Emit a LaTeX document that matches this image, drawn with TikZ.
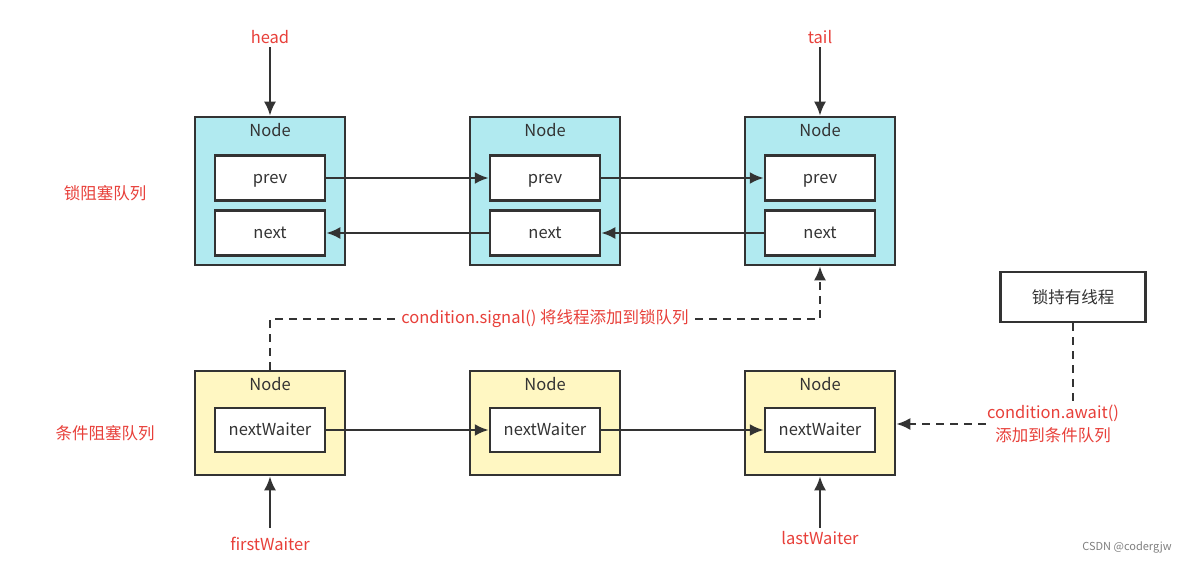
\documentclass[tikz,border=0pt]{standalone}
\usepackage{fontspec}
\setmainfont{Noto Sans CJK SC}
\usetikzlibrary{arrows.meta}
\tikzset{>={Latex[width=12pt,length=14pt]}}
\definecolor{darkline}{HTML}{333333}
\definecolor{lockcyan}{HTML}{B1EAF0}
\definecolor{condyellow}{HTML}{FFF7C2}
\definecolor{labelred}{HTML}{E8403A}
\newcommand{\RED}[1]{\textcolor{labelred}{#1}}

\tikzset{
  nodebox/.style={draw=darkline, line width=2.5pt, minimum width=150pt, inner sep=0pt},
  fieldbox/.style={draw=darkline, line width=2.5pt, fill=white, minimum width=110pt,
    minimum height=45pt, inner sep=0pt, text=darkline, text height=1.35em, text depth=0.22em},
  link/.style={->, line width=2.5pt, draw=darkline},
  dashlink/.style={link, dashed, dash pattern=on 8pt off 6pt}
}

\begin{document}
\begin{tikzpicture}[x=1pt, y=-1pt, font=\fontsize{16.5}{23}\selectfont]

  \useasboundingbox[fill=white] (0,0) rectangle (1183,564);

  %% lock queue
  \foreach \i/\x in {1/270, 2/545, 3/820} {
    \node[nodebox, fill=lockcyan, minimum height=148pt] (c\i) at (\x,191) {};
    \node[text=darkline] (ct\i) at (\x,130) {Node};
    \node[fieldbox] (p\i) at (\x,178) {prev};
    \node[fieldbox] (n\i) at (\x,233) {next};
  }

  %% condition queue
  \foreach \i/\x in {1/270, 2/545, 3/820} {
    \node[nodebox, fill=condyellow, minimum height=104pt] (w\i) at (\x,423) {};
    \node[text=darkline] (wt\i) at (\x,384) {Node};
    \node[fieldbox, minimum height=44pt] (nw\i) at (\x,430) {nextWaiter};
  }

  \draw[link] (p1) -- (p2);
  \draw[link] (p2) -- (p3);
  \draw[link] (n2) -- (n1);
  \draw[link] (n3) -- (n2);
  \draw[link] (nw1) -- (nw2);
  \draw[link] (nw2) -- (nw3);

  %% pointers
  \node (head) at (270,37) {\RED{head}};
  \node (tail) at (820,37) {\RED{tail}};
  \node (first) at (270,544) {\RED{firstWaiter}};
  \node (last) at (820,538) {\RED{lastWaiter}};
  \draw[link] (head) -- (c1.north);
  \draw[link] (tail) -- (c3.north);
  \draw[link, shorten <=6pt] (first) -- (w1.south);
  \draw[link] (last) -- (w3.south);

  \node (lockq) at (105,193) {\RED{锁阻塞队列}};
  \node (condq) at (105,433) {\RED{条件阻塞队列}};

  %% signal / await
  \draw[dashlink] (w1.north) -- ++(0,-51) -| (c3.south)
    node[pos=0.25, fill=white, inner sep=1pt] (signal)
    {\RED{condition.signal() 将线程添加到锁队列}};

  \node[draw=darkline, line width=2.5pt, fill=white, minimum width=145pt,
    minimum height=50pt, text=darkline] (owner) at (1073,297) {锁持有线程};
  \node[align=center, inner sep=1pt] (await) at (1053,424)
    {\RED{condition.await()}\\\RED{添加到条件队列}};
  \draw[line width=2.5pt, draw=darkline, dashed, dash pattern=on 8pt off 6pt]
    (owner.south) -- (owner.south |- await.north);
  \draw[dashlink] (await.west) -- (w3.east |- await.west);

  \node[text=gray, font=\fontsize{11}{13}\selectfont] (mark) at (1127,547) {CSDN @codergjw};

\end{tikzpicture}
\end{document}
